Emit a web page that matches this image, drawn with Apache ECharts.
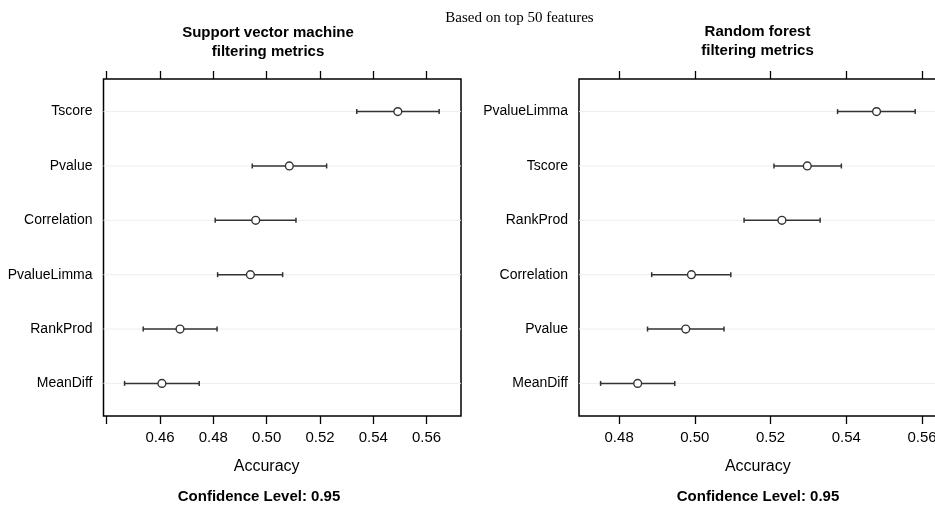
<!DOCTYPE html>
<html><head><meta charset="utf-8">
<script src="https://cdn.jsdelivr.net/npm/echarts@6/dist/echarts.min.js"></script>
<style>html,body{margin:0;padding:0;background:#fff}#c{width:935px;height:505px}</style>
</head><body><div id="c"></div>
<script>
// Left panel: Support vector machine
const svmCats = ['Tscore','Pvalue','Correlation','PvalueLimma','RankProd','MeanDiff'];
const svmLower = [0.5338,0.4946,0.4807,0.4816,0.4537,0.4467];
const svmMean  = [0.5492,0.5085,0.4959,0.4939,0.4675,0.4607];
const svmUpper = [0.5647,0.5225,0.5110,0.5060,0.4814,0.4747];
// Right panel: Random forest
const rfCats = ['PvalueLimma','Tscore','RankProd','Correlation','Pvalue','MeanDiff'];
const rfLower = [0.5377,0.5209,0.5130,0.4886,0.4875,0.4751];
const rfMean  = [0.5480,0.5297,0.5230,0.4991,0.4976,0.4849];
const rfUpper = [0.5582,0.5387,0.5331,0.5095,0.5077,0.4947];
// Tick values
const svmTicks = [0.44,0.46,0.48,0.50,0.52,0.54,0.56];
const svmLabels = [0.46,0.48,0.50,0.52,0.54,0.56];
const rfTicks = [0.48,0.50,0.52,0.54,0.56];
const rfLabels = [0.48,0.50,0.52,0.54,0.56];

const SANS = '"Liberation Sans", Arial, Helvetica, sans-serif';
const chart = echarts.init(document.getElementById('c'), null, {renderer:'canvas'});

function build(lo, me, up){ return lo.map((l,i)=>[l, me[i], up[i], i+1]); }

function renderItem(params, api){
  const cs = params.coordSys;
  const y = api.coord([api.value(1), api.value(3)])[1];
  const xl = api.coord([api.value(0), api.value(3)])[0];
  const xm = api.coord([api.value(1), api.value(3)])[0];
  const xu = api.coord([api.value(2), api.value(3)])[0];
  const ls = {stroke:'#333', lineWidth:1.5};
  return {type:'group', children:[
    {type:'line', shape:{x1:cs.x, y1:y, x2:cs.x+cs.width, y2:y}, style:{stroke:'#ededed', lineWidth:1}},
    {type:'line', shape:{x1:xl, y1:y, x2:xu, y2:y}, style:ls},
    {type:'line', shape:{x1:xl, y1:y-2.5, x2:xl, y2:y+2.5}, style:ls},
    {type:'line', shape:{x1:xu, y1:y-2.5, x2:xu, y2:y+2.5}, style:ls},
    {type:'circle', shape:{cx:xm, cy:y, r:3.9}, style:{fill:'#fff', stroke:'#333', lineWidth:1.4}}
  ]};
}

function xAxesFor(gi, min, max, ticks, labels){
  return [
    {type:'value', gridIndex:gi, position:'bottom', min:min, max:max,
     axisLine:{show:false}, splitLine:{show:false},
     axisTick:{show:true, inside:false, length:8, customValues:ticks, lineStyle:{color:'#000', width:1.3}},
     axisLabel:{show:true, customValues:labels, margin:14, color:'#000', fontSize:15, fontFamily:SANS,
       formatter:v=>v.toFixed(2)}},
    {type:'value', gridIndex:gi, position:'top', min:min, max:max,
     axisLine:{show:false}, splitLine:{show:false},
     axisTick:{show:true, inside:false, length:8, customValues:ticks, lineStyle:{color:'#000', width:1.3}},
     axisLabel:{show:false}}
  ];
}
function yAxisFor(gi, cats){
  return {type:'value', gridIndex:gi, inverse:true, min:0.4, max:6.6,
    axisLine:{show:false}, axisTick:{show:false}, splitLine:{show:false},
    axisLabel:{show:true, customValues:[1,2,3,4,5,6], margin:11, color:'#000', fontSize:14, fontFamily:SANS,
      formatter:v=>cats[Math.round(v)-1] || ''}};
}

const option = {
  animation:false,
  backgroundColor:'#fff',
  grid:[
    {left:103.5, top:79, width:357.5, height:337, show:true, borderColor:'#000', borderWidth:1.5, backgroundColor:'transparent', outerBoundsMode:'none', containLabel:false},
    {left:579, top:79, width:357, height:337, show:true, borderColor:'#000', borderWidth:1.5, backgroundColor:'transparent', outerBoundsMode:'none', containLabel:false}
  ],
  xAxis:[].concat(xAxesFor(0, 0.4388, 0.5729, svmTicks, svmLabels), xAxesFor(1, 0.4694, 0.5637, rfTicks, rfLabels)),
  yAxis:[yAxisFor(0, svmCats), yAxisFor(1, rfCats)],
  series:[
    {type:'custom', xAxisIndex:0, yAxisIndex:0, renderItem:renderItem, data:build(svmLower, svmMean, svmUpper),
     encode:{x:[0,1,2], y:3}},
    {type:'custom', xAxisIndex:2, yAxisIndex:1, renderItem:renderItem, data:build(rfLower, rfMean, rfUpper),
     encode:{x:[0,1,2], y:3}}
  ],
  graphic:[
    {type:'text', x:519.5, y:18, style:{text:'Based on top 50 features', font:'15px "Liberation Serif", "Times New Roman", serif', fill:'#000', align:'center', verticalAlign:'middle'}},
    {type:'text', x:268, y:33, style:{text:'Support vector machine', font:'bold 15px '+SANS, fill:'#000', align:'center', verticalAlign:'middle'}},
    {type:'text', x:268, y:52, style:{text:'filtering metrics', font:'bold 15px '+SANS, fill:'#000', align:'center', verticalAlign:'middle'}},
    {type:'text', x:757.5, y:32, style:{text:'Random forest', font:'bold 15px '+SANS, fill:'#000', align:'center', verticalAlign:'middle'}},
    {type:'text', x:757.5, y:51, style:{text:'filtering metrics', font:'bold 15px '+SANS, fill:'#000', align:'center', verticalAlign:'middle'}},
    {type:'text', x:266.7, y:467, style:{text:'Accuracy', font:'16px '+SANS, fill:'#000', align:'center', verticalAlign:'middle'}},
    {type:'text', x:757.8, y:467, style:{text:'Accuracy', font:'16px '+SANS, fill:'#000', align:'center', verticalAlign:'middle'}},
    {type:'text', x:259, y:497, style:{text:'Confidence Level: 0.95', font:'bold 15px '+SANS, fill:'#000', align:'center', verticalAlign:'middle'}},
    {type:'text', x:758, y:497, style:{text:'Confidence Level: 0.95', font:'bold 15px '+SANS, fill:'#000', align:'center', verticalAlign:'middle'}}
  ]
};
chart.setOption(option);
</script></body></html>
